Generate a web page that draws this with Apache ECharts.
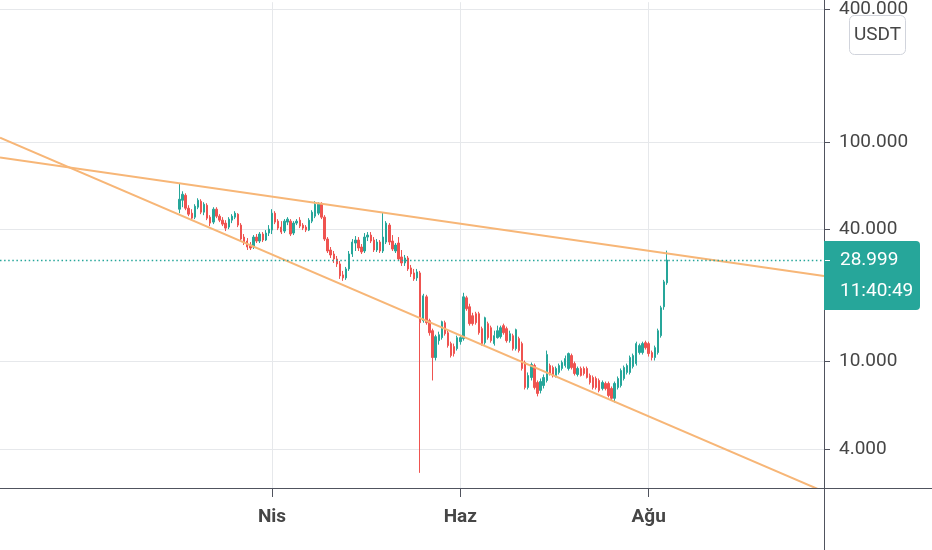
<!DOCTYPE html>
<html><head><meta charset="utf-8">
<script src="https://cdn.jsdelivr.net/npm/echarts@6/dist/echarts.min.js"></script>
<style>html,body{margin:0;padding:0;background:#fff}#c{width:932px;height:550px}</style>
</head><body><div id="c"></div>
<script>
// ---- data (daily candles, [open, close, low, high]) ----
const startDate = '2021-03-02';
const ohlc = [
[49.38,54.81,47.37,64.73],[54.24,57.74,50.42,59.57],[57.13,49.90,48.87,58.34],[49.90,46.88,45.91,51.48],
[47.37,44.96,44.03,49.38],[45.43,50.95,44.50,52.03],[50.42,54.24,49.38,55.38],[53.68,47.87,46.88,54.81],
[47.87,52.03,46.39,53.12],[51.48,44.96,44.03,52.57],[45.43,42.68,41.37,46.39],[43.13,49.38,42.24,50.42],
[49.38,45.91,44.96,50.42],[45.91,44.03,43.13,46.88],[44.03,42.24,41.37,45.43],[42.68,40.51,39.27,44.03],
[40.94,44.50,40.09,45.43],[44.03,45.91,42.68,46.88],[45.43,47.37,44.50,48.37],[46.88,41.80,40.94,47.37],
[41.80,36.12,35.37,42.68],[36.88,35.00,33.93,38.06],[35.37,33.23,32.21,36.50],[33.93,32.88,32.21,35.00],
[33.23,36.88,32.54,37.66],[36.88,35.37,34.64,38.06],[35.37,38.06,34.64,38.86],[38.06,35.75,35.00,38.86],
[35.75,38.46,35.37,39.68],[38.46,40.09,37.27,41.80],
[39.68,47.37,38.06,49.38],[47.37,43.13,42.24,48.37],[43.58,40.51,39.68,44.50],[40.94,38.86,38.06,43.58],
[39.27,43.58,38.46,44.50],[43.13,44.50,41.80,45.43],[43.58,38.06,37.27,44.50],[38.46,42.68,37.66,43.58],
[42.68,43.58,41.80,44.50],[44.03,41.37,40.51,45.43],[41.80,40.51,39.68,42.68],[40.94,39.68,38.86,41.80],
[39.68,44.03,39.27,44.96],[43.58,47.87,42.68,48.87],[45.91,52.03,44.96,53.68],[47.37,52.03,46.39,53.12],
[52.03,45.43,44.50,53.12],[45.43,36.12,35.37,46.39],[36.12,31.87,31.21,36.88],[32.21,30.57,29.62,33.23],
[30.89,29.32,28.12,31.87],[29.32,27.83,26.97,30.25],[27.83,24.55,23.79,28.71],[24.81,24.04,23.31,25.87],
[24.04,26.41,23.55,26.97],[26.41,30.89,25.87,31.87],[30.89,35.00,29.94,36.12],[34.64,35.75,31.87,37.27],
[35.75,32.88,31.87,36.88],[33.23,31.54,30.89,34.28],[31.87,36.88,31.21,38.46],[36.88,37.66,35.37,38.86],
[37.66,35.37,34.64,38.86],[35.75,32.21,31.54,36.88],[32.21,35.00,31.54,36.12],[35.00,31.87,31.21,35.75],
[31.87,36.88,31.21,47.87],[35.00,42.68,34.28,43.58],[41.80,35.00,33.93,42.68],[35.37,32.54,31.87,37.66],
[31.87,33.93,31.21,34.64],[34.64,29.32,28.71,36.88],[29.94,28.12,27.25,32.21],[28.12,29.62,27.25,30.57],
[29.62,26.41,25.87,30.25],[26.69,25.07,24.29,27.54],[25.33,23.79,23.31,26.41],[24.04,25.60,23.31,26.41],
[25.33,15.04,3.12,25.87],[15.36,19.93,15.04,20.35],[19.72,15.04,14.73,20.14],[15.36,13.54,13.13,15.68],
[13.83,10.44,8.21,14.13],[10.44,12.99,10.12,13.26],[12.46,13.26,11.95,13.69],[12.86,15.20,12.59,15.36],
[15.04,13.40,13.13,15.36],[13.54,11.83,11.58,13.83],[12.08,10.66,10.44,12.33],[11.71,10.88,10.55,12.08],
[11.46,12.86,11.23,13.13],[12.33,12.86,11.95,13.13],[12.73,19.72,12.46,20.57],[19.52,17.41,17.04,19.93],
[17.77,14.89,14.58,18.34],[16.18,14.89,14.58,16.69],[16.52,15.04,14.73,16.86],[16.52,13.54,13.26,16.86],
[14.13,12.08,11.83,14.43],[12.20,15.84,11.95,16.01],[14.89,12.86,12.59,15.20],[14.27,12.46,12.20,14.58],
[12.08,13.13,11.83,13.83],[12.86,13.83,12.73,14.58],[12.99,14.27,12.73,14.58],[14.58,13.54,13.26,14.89],
[14.13,12.46,12.20,14.43],[12.46,13.40,12.20,13.83],[13.13,11.46,11.23,13.40],[11.46,13.98,11.23,14.13],
[12.73,11.23,11.00,12.99],[12.08,9.31,9.11,12.33],[9.91,7.63,7.47,10.12],[7.63,8.65,7.47,8.93],
[8.47,9.70,8.21,9.91],[9.60,7.63,7.47,9.80],[8.04,7.17,6.95,8.21],[7.40,8.12,7.17,8.38],
[7.79,8.47,7.55,8.74],[8.21,10.77,8.04,11.23],[9.60,8.83,8.65,9.80],[9.40,8.65,8.47,9.60],
[8.65,9.31,8.47,9.50],[8.93,9.60,8.74,9.80],[9.31,9.91,9.11,10.12],[9.60,10.33,9.40,10.66],
[9.31,10.88,9.11,11.00],[10.66,9.40,9.21,10.88],[9.80,8.83,8.65,10.01],[8.74,9.31,8.56,9.50],
[9.31,8.65,8.56,9.50],[9.31,8.83,8.65,9.50],[9.31,8.47,8.38,9.50],[8.65,8.04,7.87,8.83],
[8.47,7.63,7.47,8.65],[8.38,7.63,7.47,8.56],[8.21,7.40,7.25,8.38],[7.55,8.04,7.40,8.21],
[7.96,7.55,7.40,8.12],[7.96,7.02,6.88,8.12],[7.55,6.81,6.66,7.71],[6.81,7.96,6.52,8.12],
[7.63,8.38,7.47,8.56],[7.79,9.11,7.63,9.31],[8.38,9.40,8.21,9.60],[8.93,9.60,8.74,9.80],
[8.93,10.44,8.74,10.66],[9.50,10.66,9.31,10.88],[9.80,12.08,9.60,12.33],[11.00,11.83,10.77,12.08],
[11.00,12.08,10.77,12.33],[12.20,11.58,11.35,12.46],[12.08,10.88,10.55,12.33],[11.00,10.44,10.12,11.23],
[10.44,11.58,10.12,11.83],[11.00,13.83,10.77,14.13],[13.13,17.59,12.86,17.96],[17.77,23.07,17.22,23.55],
[22.83,28.999,22.36,32.00]
];
const xTickDates = ['2021-04-01', '2021-06-01', '2021-08-01'];
const xTickLabels = ['Nis', 'Haz', 'Ağu'];
const yTickValues = [4, 10, 40, 100, 400];
const upperTrend = [['2021-01-02T21:36:00Z', 84.92], ['2021-09-26T19:12:00Z', 24.55]];
const lowerTrend = [['2021-01-02T21:36:00Z', 104.6], ['2021-09-26T19:12:00Z', 2.562]];
const xRange = ['2021-01-02T21:36:00Z', '2021-09-26T19:12:00Z'];
const yRange = [2.662, 431.9];
const countdown = '11:40:49';
const quoteCurrency = 'USDT';

// ---- build ----
const DAY = 86400000;
const t0 = Date.parse(startDate);
const candles = ohlc.map((r, i) => [t0 + i * DAY, r[0], r[1], r[2], r[3]]);
const lastPrice = ohlc[ohlc.length - 1][1];
const xTicks = xTickDates.map(s => Date.parse(s));
const FONT = 'Roboto';
const FS = 19;
const TXT = '#464646';
const AX = '#50535e';
const GRID = '#e6e8eb';
const UP = '#26a69a', DOWN = '#ef5350', TREND = '#f7b677';

const chart = echarts.init(document.getElementById('c'), null, {renderer: 'canvas'});
chart.setOption({
  animation: false,
  backgroundColor: '#ffffff',
  grid: {left: 0, right: 108, top: 0, bottom: 62, containLabel: false},
  xAxis: {
    type: 'value', scale: true, min: Date.parse(xRange[0]), max: Date.parse(xRange[1]),
    axisLine: {show: false},
    axisTick: {show: true, length: 9, customValues: xTicks, lineStyle: {color: AX, width: 1}},
    axisLabel: {
      customValues: xTicks, margin: 20, color: TXT, fontSize: FS, fontWeight: 'bold', fontFamily: FONT,
      formatter: function (v) {
        let best = 0, bd = Infinity;
        xTicks.forEach((t, i) => { const d = Math.abs(t - v); if (d < bd) { bd = d; best = i; } });
        return xTickLabels[best];
      }
    },
    splitLine: {show: true, lineStyle: {color: GRID, width: 1}}
  },
  yAxis: {
    type: 'log', logBase: 10, position: 'right', min: yRange[0], max: yRange[1],
    axisLine: {show: false},
    axisTick: {show: true, length: 6, customValues: yTickValues, lineStyle: {color: AX, width: 1}},
    axisLabel: {
      customValues: yTickValues, margin: 15, color: TXT, fontSize: FS, fontFamily: FONT,
      formatter: v => Number(v).toFixed(3)
    },
    splitLine: {show: true, lineStyle: {color: GRID, width: 1}}
  },
  series: [
    {
      type: 'candlestick', data: candles, barWidth: 1.9, z: 2,
      itemStyle: {color: UP, color0: DOWN, borderColor: UP, borderColor0: DOWN, borderWidth: 1},
      markLine: {
        silent: true, symbol: ['none', 'none'], animation: false,
        label: {show: false},
        lineStyle: {color: UP, width: 1.3, type: [1.5, 2.6]},
        data: [{yAxis: lastPrice}]
      }
    },
    {type: 'line', data: upperTrend.map(p => [Date.parse(p[0]), p[1]]), symbol: 'none', silent: true, z: 3,
      lineStyle: {color: TREND, width: 2}},
    {type: 'line', data: lowerTrend.map(p => [Date.parse(p[0]), p[1]]), symbol: 'none', silent: true, z: 3,
      lineStyle: {color: TREND, width: 2}}
  ]
});

const py = chart.convertToPixel({yAxisIndex: 0}, lastPrice);
chart.setOption({
  graphic: [
    {type: 'line', z: 10, shape: {x1: 824.5, y1: 0, x2: 824.5, y2: 550}, style: {stroke: AX, lineWidth: 1}},
    {type: 'line', z: 10, shape: {x1: 0, y1: 488.5, x2: 932, y2: 488.5}, style: {stroke: AX, lineWidth: 1}},
    {type: 'rect', z: 11, shape: {x: 824, y: py - 19, width: 96, height: 69, r: [0, 4, 4, 0]}, style: {fill: UP}},
    {type: 'line', z: 12, shape: {x1: 825, y1: Math.round(py) + 0.5, x2: 830, y2: Math.round(py) + 0.5}, style: {stroke: '#ffffff', lineWidth: 1}},
    {type: 'text', z: 12, x: 840, y: py, style: {text: lastPrice.toFixed(3), fill: '#ffffff', font: FS + 'px ' + FONT, verticalAlign: 'middle', align: 'left'}},
    {type: 'text', z: 12, x: 840, y: py + 31, style: {text: countdown, fill: '#ffffff', font: FS + 'px ' + FONT, verticalAlign: 'middle', align: 'left'}},
    {type: 'rect', z: 11, shape: {x: 849.5, y: 15.5, width: 56, height: 39, r: 5}, style: {fill: '#ffffff', stroke: '#d1d4dc', lineWidth: 1}},
    {type: 'text', z: 12, x: 877.5, y: 35, style: {text: quoteCurrency, fill: TXT, font: FS + 'px ' + FONT, verticalAlign: 'middle', align: 'center'}}
  ]
});
</script>
</body></html>
